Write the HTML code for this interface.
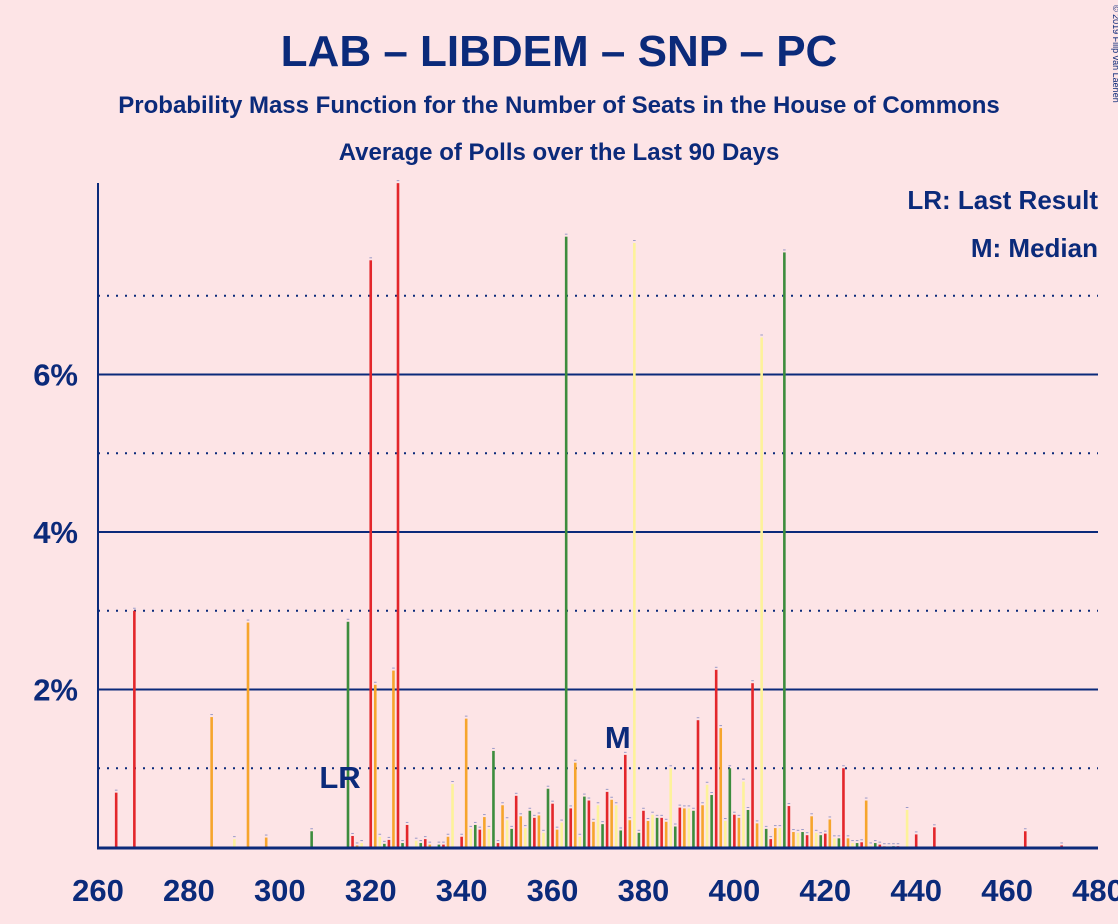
<!DOCTYPE html>
<html><head><meta charset="utf-8">
<style>
html,body{margin:0;padding:0;background:#fde4e6;}
svg{display:block;font-family:"Liberation Sans",sans-serif;}
</style></head>
<body>
<svg id="chart" width="1118" height="924" viewBox="0 0 1118 924">
<rect x="0" y="0" width="1118" height="924" fill="#fde4e6"/>
<text x="559" y="66" text-anchor="middle" font-size="44" font-weight="bold" fill="#0b2a7a">LAB – LIBDEM – SNP – PC</text>
<text x="559" y="113" text-anchor="middle" font-size="24" font-weight="bold" fill="#0b2a7a">Probability Mass Function for the Number of Seats in the House of Commons</text>
<text x="559" y="160" text-anchor="middle" font-size="24" font-weight="bold" fill="#0b2a7a">Average of Polls over the Last 90 Days</text>
<text x="1098" y="209" text-anchor="end" font-size="26" font-weight="bold" fill="#0b2a7a">LR: Last Result</text>
<text x="1098" y="257" text-anchor="end" font-size="26" font-weight="bold" fill="#0b2a7a">M: Median</text>
<text x="1113" y="5" transform="rotate(90 1113 5)" font-size="9" fill="#0b2a7a">© 2019 Filip van Laenen</text>
<g id="grid"></g>
<g id="bars"></g>
<g id="axes"></g>
</svg>
<script>
const seats = [264,268,285,290,293,297,307,315,316,317,318,320,321,322,323,324,325,326,327,328,330,331,332,333,335,336,337,338,340,341,342,343,344,345,346,347,348,349,350,351,352,353,354,355,356,357,358,359,360,361,362,363,364,365,366,367,368,369,370,371,372,373,374,375,376,377,378,379,380,381,382,383,384,385,386,387,388,389,390,391,392,393,394,395,396,397,398,399,400,401,402,403,404,405,406,407,408,409,410,411,412,413,414,415,416,417,418,419,420,421,422,423,424,425,426,427,428,429,430,431,432,433,434,435,436,438,440,444,464,472];
const probs = [0.69,3.0,1.65,0.1,2.85,0.12,0.2,2.86,0.14,0.02,0.05,7.45,2.06,0.13,0.04,0.09,2.24,8.43,0.05,0.28,0.08,0.05,0.1,0.03,0.03,0.03,0.13,0.8,0.13,1.63,0.23,0.28,0.22,0.38,0.23,1.22,0.05,0.53,0.34,0.23,0.65,0.39,0.24,0.46,0.37,0.4,0.18,0.74,0.55,0.22,0.31,7.75,0.49,1.07,0.13,0.64,0.59,0.32,0.53,0.29,0.7,0.6,0.53,0.21,1.17,0.34,7.67,0.18,0.46,0.33,0.41,0.37,0.37,0.32,1.0,0.26,0.5,0.49,0.49,0.46,1.61,0.53,0.79,0.66,2.25,1.51,0.33,1.0,0.41,0.37,0.83,0.47,2.08,0.3,6.47,0.23,0.1,0.24,0.24,7.55,0.52,0.19,0.18,0.19,0.15,0.39,0.18,0.15,0.17,0.35,0.11,0.11,1.0,0.11,0.05,0.05,0.06,0.59,0.02,0.05,0.03,0.01,0.01,0.01,0.01,0.47,0.16,0.25,0.2,0.02];
const colorOverrideSeats = [326];
const colorOverrideValues = ["#e3262b"];
const xTicks = [260,280,300,320,340,360,380,400,420,440,460,480];
const yTicks = [2,4,6];
const yMinor = [1,3,5,7];
const lastResult = 315;
const median = 377;

const NS = "http://www.w3.org/2000/svg";
const X0 = 98, X1 = 1098, Y0 = 847, YTOP = 183;
function sx(s){ return X0 + (s - 260) * (X1 - X0) / 220; }
function sy(v){ return Y0 - v * 78.75; }
const palette = ["#e3262b","#f6a52c","#fdf29a","#3d8c3d"];
function mk(tag, attrs, parent){
  const el = document.createElementNS(NS, tag);
  for (const k in attrs) el.setAttribute(k, attrs[k]);
  parent.appendChild(el);
  return el;
}
const grid = document.getElementById('grid');
const bars = document.getElementById('bars');
const axes = document.getElementById('axes');

yMinor.forEach(v => {
  const l = mk('line', {x1:X0, x2:X1, y1:sy(v), y2:sy(v), stroke:'#0b2a7a', 'stroke-width':2, 'stroke-dasharray':'2,7'}, grid);
  
  
});
yTicks.forEach(v => {
  const l = mk('line', {x1:X0, x2:X1, y1:sy(v), y2:sy(v), stroke:'#0b2a7a', 'stroke-width':2}, grid);
  
  
  const t = mk('text', {x:78, y:sy(v)+11, 'text-anchor':'end', 'font-size':31, 'font-weight':'bold', fill:'#0b2a7a'}, axes);
  t.textContent = v + '%';
  
  
});

seats.forEach((s, i) => {
  const oi = colorOverrideSeats.indexOf(s);
  const c = oi >= 0 ? colorOverrideValues[oi] : palette[((s % 4) + 4) % 4];
  const top = Math.max(sy(probs[i]), YTOP);
  const r = mk('rect', {x:sx(s)-1.3, y:top, width:2.6, height:Y0-top, fill:c}, bars);
  
  
  const d = mk('rect', {x:sx(s)-1.3, y:top-3, width:2.6, height:1, fill:'#9a9ac8'}, bars);
  
  
});

const ax = mk('line', {x1:X0, x2:X0, y1:YTOP, y2:Y0+1, stroke:'#0b2a7a', 'stroke-width':2}, axes);


const bx = mk('line', {x1:X0-1, x2:X1, y1:Y0+1, y2:Y0+1, stroke:'#0b2a7a', 'stroke-width':3}, axes);


xTicks.forEach(v => {
  const t = mk('text', {x:sx(v), y:901, 'text-anchor':'middle', 'font-size':31, 'font-weight':'bold', fill:'#0b2a7a'}, axes);
  t.textContent = v;
  
  
});
const lr = mk('text', {x:sx(lastResult)-8, y:788, 'text-anchor':'middle', 'font-size':31, 'font-weight':'bold', fill:'#0b2a7a'}, axes);
lr.textContent = 'LR';


const md = mk('text', {x:sx(median)-12, y:748, 'text-anchor':'middle', 'font-size':31, 'font-weight':'bold', fill:'#0b2a7a'}, axes);
md.textContent = 'M';


</script>
</body></html>
